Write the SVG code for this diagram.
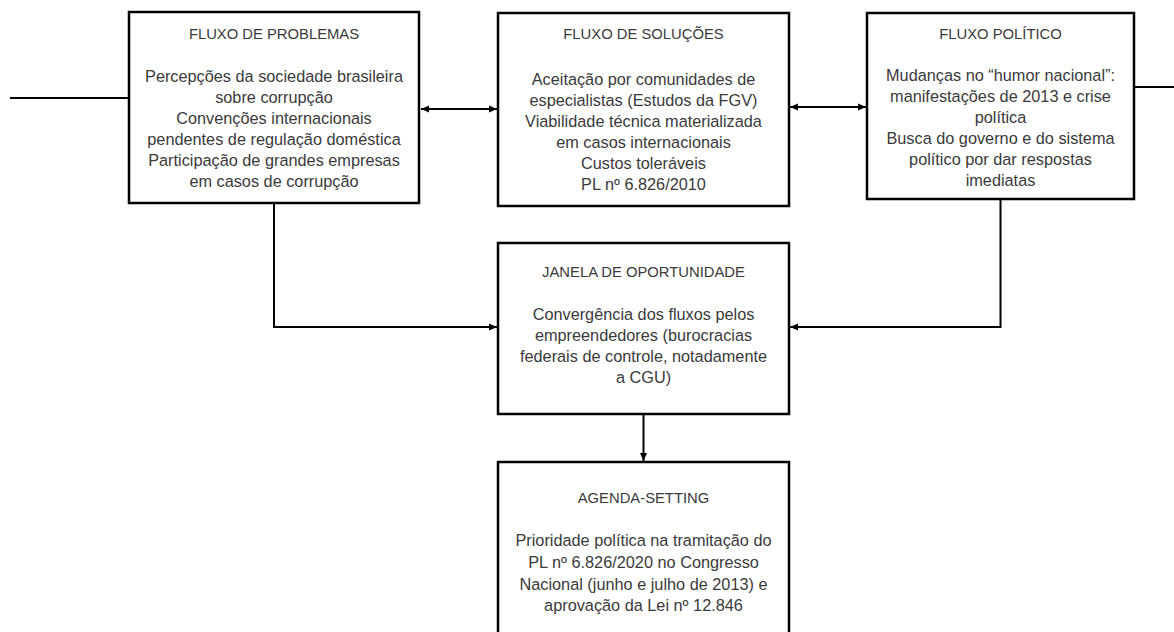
<svg xmlns="http://www.w3.org/2000/svg" width="1174" height="632" viewBox="0 0 1174 632">
<style>
.box{fill:#ffffff;stroke:#000000;stroke-width:2.5}
.ln{fill:none;stroke:#000000;stroke-width:2}
.t{font-family:"Liberation Sans",Arial,sans-serif;font-size:14.8px;fill:#3a3a3a;text-anchor:middle}
.b{font-family:"Liberation Sans",Arial,sans-serif;font-size:16.3px;fill:#3a3a3a;text-anchor:middle}
</style>
<defs>
<marker id="ah" markerUnits="userSpaceOnUse" markerWidth="9" markerHeight="8" refX="8" refY="4" orient="auto-start-reverse">
<path d="M0,0.5 L8,4 L0,7.5 z" fill="#000000"/>
</marker>
</defs>
<rect width="1174" height="632" fill="#ffffff"/>
<g id="connectors">
<path class="ln" d="M10,98 H129"/>
<path class="ln" d="M1134,87 H1174"/>
<path class="ln" d="M421,109 H497" marker-start="url(#ah)" marker-end="url(#ah)"/>
<path class="ln" d="M790,107 H866" marker-start="url(#ah)" marker-end="url(#ah)"/>
<path class="ln" d="M274,204 V327 H497" marker-end="url(#ah)"/>
<path class="ln" d="M1000.5,200 V327 H790" marker-end="url(#ah)"/>
<path class="ln" d="M643.5,415 V461" marker-end="url(#ah)"/>
</g>
<g id="fluxo-problemas">
<rect class="box" x="129" y="12" width="290" height="191"/>
<text class="t" x="274" y="39">FLUXO DE PROBLEMAS</text>
<text class="b" x="274" y="82">Percepções da sociedade brasileira</text>
<text class="b" x="274" y="103">sobre corrupção</text>
<text class="b" x="274" y="124">Convenções internacionais</text>
<text class="b" x="274" y="145">pendentes de regulação doméstica</text>
<text class="b" x="274" y="166">Participação de grandes empresas</text>
<text class="b" x="274" y="187">em casos de corrupção</text>
</g>
<g id="fluxo-solucoes">
<rect class="box" x="498" y="13" width="291" height="193"/>
<text class="t" x="643.5" y="39">FLUXO DE SOLUÇÕES</text>
<text class="b" x="643.5" y="85">Aceitação por comunidades de</text>
<text class="b" x="643.5" y="106">especialistas (Estudos da FGV)</text>
<text class="b" x="643.5" y="127">Viabilidade técnica materializada</text>
<text class="b" x="643.5" y="148">em casos internacionais</text>
<text class="b" x="643.5" y="169">Custos toleráveis</text>
<text class="b" x="643.5" y="190">PL nº 6.826/2010</text>
</g>
<g id="fluxo-politico">
<rect class="box" x="867" y="13" width="267" height="186"/>
<text class="t" x="1000.5" y="39">FLUXO POLÍTICO</text>
<text class="b" x="1000.5" y="81">Mudanças no “humor nacional”:</text>
<text class="b" x="1000.5" y="102">manifestações de 2013 e crise</text>
<text class="b" x="1000.5" y="123">política</text>
<text class="b" x="1000.5" y="144">Busca do governo e do sistema</text>
<text class="b" x="1000.5" y="165">político por dar respostas</text>
<text class="b" x="1000.5" y="186">imediatas</text>
</g>
<g id="janela-oportunidade">
<rect class="box" x="498" y="243" width="291" height="171"/>
<text class="t" x="643.5" y="277">JANELA DE OPORTUNIDADE</text>
<text class="b" x="643.5" y="320">Convergência dos fluxos pelos</text>
<text class="b" x="643.5" y="341">empreendedores (burocracias</text>
<text class="b" x="643.5" y="362">federais de controle, notadamente</text>
<text class="b" x="643.5" y="383">a CGU)</text>
</g>
<g id="agenda-setting">
<rect class="box" x="498" y="462" width="291" height="190"/>
<text class="t" x="643.5" y="503">AGENDA-SETTING</text>
<text class="b" x="643.5" y="546">Prioridade política na tramitação do</text>
<text class="b" x="643.5" y="568">PL nº 6.826/2020 no Congresso</text>
<text class="b" x="643.5" y="590">Nacional (junho e julho de 2013) e</text>
<text class="b" x="643.5" y="611">aprovação da Lei nº 12.846</text>
</g>
</svg>
